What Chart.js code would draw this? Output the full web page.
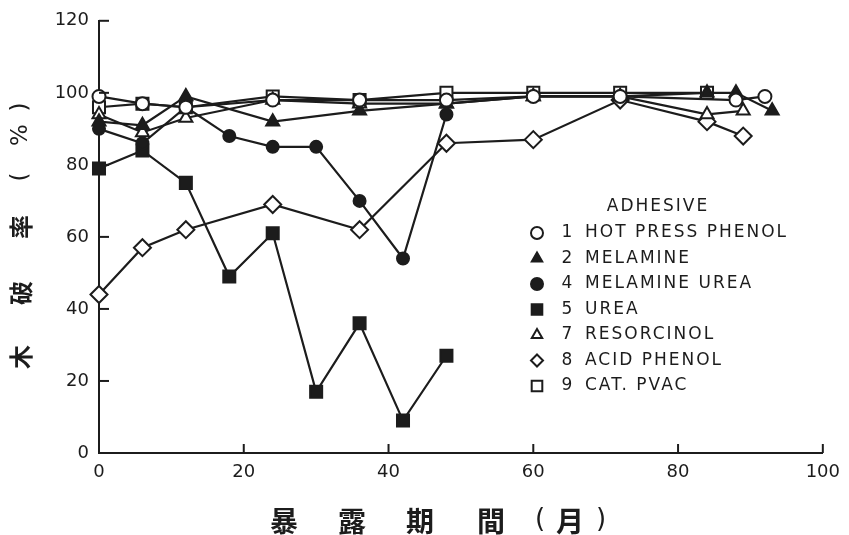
<!DOCTYPE html>
<html lang="ja">
<head>
<meta charset="UTF-8">
<title>木破率と暴露期間</title>
<script src="https://cdn.jsdelivr.net/npm/chart.js"></script>
<style>
  html, body { margin: 0; padding: 0; background: #fff; }
  #wrap { width: 849px; height: 535px; }
</style>
</head>
<body>
<div id="wrap"><canvas id="woodFailureChart" width="849" height="535"></canvas></div>
<script>
  // exposure months and wood failure (%) per adhesive
  const hotPressMonths = [0, 6, 12, 24, 36, 48, 60, 72, 88, 92];
  const hotPressValues = [99, 97, 96, 98, 98, 98, 99, 99, 98, 99];

  const melamineMonths = [0, 6, 12, 24, 36, 48, 60, 72, 84, 88, 93];
  const melamineValues = [92, 91, 99, 92, 95, 97, 99, 99, 100, 100, 95];

  const melUreaMonths = [0, 6, 12, 18, 24, 30, 36, 42, 48];
  const melUreaValues = [90, 86, 96, 88, 85, 85, 70, 54, 94];

  const ureaMonths = [0, 6, 12, 18, 24, 30, 36, 42, 48];
  const ureaValues = [79, 84, 75, 49, 61, 17, 36, 9, 27];

  const resorcinolMonths = [0, 6, 12, 24, 36, 48, 60, 72, 84, 89];
  const resorcinolValues = [94, 89, 93, 98, 97, 97, 99, 99, 94, 95];

  const acidPhenolMonths = [0, 6, 12, 24, 36, 48, 60, 72, 84, 89];
  const acidPhenolValues = [44, 57, 62, 69, 62, 86, 87, 98, 92, 88];

  const pvacMonths = [0, 6, 12, 24, 36, 48, 60, 72, 84];
  const pvacValues = [96, 97, 96, 99, 98, 100, 100, 100, 100];

  const legendNumbers = ['1', '2', '4', '5', '7', '8', '9'];
  const legendNames = ['HOT PRESS PHENOL', 'MELAMINE', 'MELAMINE UREA', 'UREA', 'RESORCINOL', 'ACID PHENOL', 'CAT. PVAC'];

  const ink = '#1c1c1c';
  const latin = '"DejaVu Sans", Arial, sans-serif';
  const cjk = '"Noto Sans CJK JP", "Noto Sans CJK SC", sans-serif';

  function pairUp(xs, ys) {
    return xs.map((x, i) => ({ x: x, y: ys[i] }));
  }

  function series(label, xs, ys, style, filled, radius) {
    return {
      label: label,
      data: pairUp(xs, ys),
      showLine: true,
      borderColor: ink,
      borderWidth: 2.2,
      pointStyle: style,
      pointRadius: radius,
      pointBackgroundColor: filled ? ink : '#fff',
      pointBorderColor: ink,
      pointBorderWidth: 2,
      clip: false
    };
  }

  const datasets = [
    series(legendNames[0], hotPressMonths, hotPressValues, 'circle', false, 6.5),
    series(legendNames[1], melamineMonths, melamineValues, 'triangle', true, 7.5),
    series(legendNames[2], melUreaMonths, melUreaValues, 'circle', true, 6),
    series(legendNames[3], ureaMonths, ureaValues, 'rect', true, 8.5),
    series(legendNames[4], resorcinolMonths, resorcinolValues, 'triangle', false, 7.5),
    series(legendNames[5], acidPhenolMonths, acidPhenolValues, 'rectRot', false, 8.5),
    series(legendNames[6], pvacMonths, pvacValues, 'rect', false, 8.5)
  ];

  // small marker painter for the legend block
  function marker(ctx, style, x, y, r, filled) {
    ctx.beginPath();
    if (style === 'circle') {
      ctx.arc(x, y, r, 0, Math.PI * 2);
    } else if (style === 'triangle') {
      ctx.moveTo(x, y - r);
      ctx.lineTo(x + r * 0.866, y + r * 0.5);
      ctx.lineTo(x - r * 0.866, y + r * 0.5);
      ctx.closePath();
    } else if (style === 'rect') {
      const s = r * Math.SQRT1_2;
      ctx.rect(x - s, y - s, s * 2, s * 2);
    } else {
      ctx.moveTo(x, y - r);
      ctx.lineTo(x + r, y);
      ctx.lineTo(x, y + r);
      ctx.lineTo(x - r, y);
      ctx.closePath();
    }
    ctx.fillStyle = filled ? ink : '#fff';
    ctx.fill();
    ctx.lineWidth = 2;
    ctx.strokeStyle = ink;
    ctx.stroke();
  }

  const decorations = {
    id: 'decorations',
    afterDraw(chart) {
      const ctx = chart.ctx;
      const a = chart.chartArea;
      const xs = chart.scales.x, ys = chart.scales.y;
      ctx.save();

      // inward tick marks
      ctx.strokeStyle = ink;
      ctx.lineWidth = 2;
      xs.ticks.forEach(t => {
        const px = xs.getPixelForValue(t.value);
        ctx.beginPath(); ctx.moveTo(px, a.bottom); ctx.lineTo(px, a.bottom - 9); ctx.stroke();
      });
      ys.ticks.forEach(t => {
        const py = ys.getPixelForValue(t.value);
        ctx.beginPath(); ctx.moveTo(a.left, py); ctx.lineTo(a.left + 10, py); ctx.stroke();
      });

      // legend block
      ctx.fillStyle = ink;
      ctx.textBaseline = 'middle';
      ctx.font = '17px ' + latin;
      ctx.letterSpacing = '2px';
      ctx.textAlign = 'center';
      ctx.fillText('ADHESIVE', 658, 207);
      chart.data.datasets.forEach((ds, i) => {
        const y = 233 + i * 25.5;
        marker(ctx, ds.pointStyle, 537, y, ds.pointStyle === 'rect' ? 7.5 : 6, ds.pointBackgroundColor === ink);
        ctx.fillStyle = ink;
        ctx.textAlign = 'center';
        ctx.fillText(legendNumbers[i], 568, y);
        ctx.textAlign = 'left';
        ctx.fillText(legendNames[i], 585, y);
      });
      ctx.letterSpacing = '0px';

      // x axis title
      ctx.font = 'bold 28px ' + cjk;
      ctx.textAlign = 'center';
      [['暴', 284], ['露', 352], ['期', 420], ['間', 491]].forEach(c => ctx.fillText(c[0], c[1], 521));
      ctx.font = '26px ' + latin;
      ctx.fillText('(', 540, 520);
      ctx.fillText(')', 601, 520);
      ctx.font = 'bold 28px ' + cjk;
      ctx.fillText('月', 570, 521);

      // y axis title, reading upward
      ctx.translate(21, 238);
      ctx.rotate(-Math.PI / 2);
      ctx.font = 'bold 24px ' + cjk;
      [['木', -119], ['破', -55], ['率', 11]].forEach(c => ctx.fillText(c[0], c[1], 0));
      ctx.font = '23px ' + latin;
      ctx.fillText('(', 61, 0);
      ctx.fillText('%', 103, 0);
      ctx.fillText(')', 131, 0);
      ctx.restore();
    }
  };

  new Chart(document.getElementById('woodFailureChart'), {
    type: 'scatter',
    data: { datasets: datasets },
    options: {
      responsive: false,
      animation: false,
      devicePixelRatio: 1,
      layout: { padding: { left: 0, right: 22, top: 16, bottom: 0 } },
      plugins: { legend: { display: false }, tooltip: { enabled: false } },
      scales: {
        x: {
          type: 'linear',
          min: 0, max: 100,
          afterFit: s => { s.height = 82; },
          border: { display: true, color: ink, width: 2 },
          grid: { drawOnChartArea: false, drawTicks: false },
          ticks: { stepSize: 20, padding: 9, color: ink, font: { family: latin, size: 18 } }
        },
        y: {
          min: 0, max: 120,
          afterFit: s => { s.width = 99; },
          border: { display: true, color: ink, width: 2 },
          grid: { drawOnChartArea: false, drawTicks: false },
          ticks: { stepSize: 20, padding: 10, color: ink, font: { family: latin, size: 18 } }
        }
      }
    },
    plugins: [decorations]
  });
</script>
</body>
</html>
